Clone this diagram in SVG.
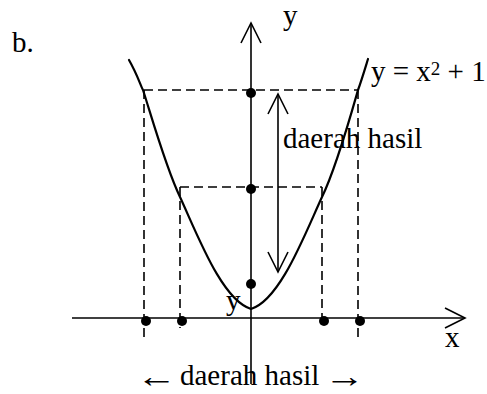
<svg xmlns="http://www.w3.org/2000/svg" width="487" height="394" viewBox="0 0 487 394">
<style>
text{font-family:"Liberation Serif","Tinos","Times New Roman","DejaVu Serif",serif;font-size:29px;fill:#000}
.ax{stroke:#000;stroke-width:1.6;fill:none}
.dash{stroke:#000;stroke-width:1.6;stroke-dasharray:9 5;fill:none}
.curve{stroke:#000;stroke-width:2.2;fill:none;stroke-linejoin:round;stroke-linecap:round}
.dot{fill:#000}
</style>
<defs>
<marker id="open" markerUnits="userSpaceOnUse" orient="auto-start-reverse" markerWidth="30" markerHeight="30" refX="0" refY="0" overflow="visible">
<path d="M-20,-10 L0,0 L-20,10" fill="none" stroke="#000" stroke-width="1.6"/>
</marker>
</defs>
<rect width="487" height="394" fill="#fff"/>
<g id="guides">
<path class="dash" d="M144,90 H358 M144,90 V339 M358,90 V339"/>
<path class="dash" d="M180,187 H322 M180,187 V328 M322,187 V322"/>
</g>
<g id="labels-inner">
<text x="226" y="310">y</text>
</g>
<g id="connectors">
<line class="ax" x1="251" y1="384" x2="251" y2="23" marker-end="url(#open)"/>
<line class="ax" x1="72" y1="318" x2="465" y2="318" marker-end="url(#open)"/>
<line class="ax" x1="278" y1="272" x2="278" y2="94" marker-start="url(#open)" marker-end="url(#open)"/>
</g>
<g id="curve">
<path class="curve" d="M129,60 C137,74 140,84 143,90 C152,118 166,168 180,197 C198,236 222,300 251,309 C280,300 304,236 322,197 C336,168 350,118 358,90 C361,82 364,72 368,59"/>
</g>
<g id="points">
<circle class="dot" cx="251" cy="93" r="5"/>
<circle class="dot" cx="251" cy="189" r="5"/>
<circle class="dot" cx="251" cy="284" r="5"/>
<circle class="dot" cx="146" cy="321" r="5"/>
<circle class="dot" cx="182" cy="321" r="5"/>
<circle class="dot" cx="324" cy="321" r="5"/>
<circle class="dot" cx="360" cy="321" r="5"/>
</g>
<g id="labels">
<text x="12" y="52">b.</text>
<text x="283" y="25">y</text>
<text x="445" y="347">x</text>
<text x="371" y="81">y = x<tspan font-size="19" dy="-6">2</tspan><tspan dy="6"> + 1</tspan></text>
<text x="283" y="148">daerah hasil</text>
<text transform="translate(136.5,387) scale(1.4,1.1)">←</text>
<text x="180" y="385">daerah hasil</text>
<text transform="translate(324.5,387) scale(1.4,1.1)">→</text>
</g>
</svg>
